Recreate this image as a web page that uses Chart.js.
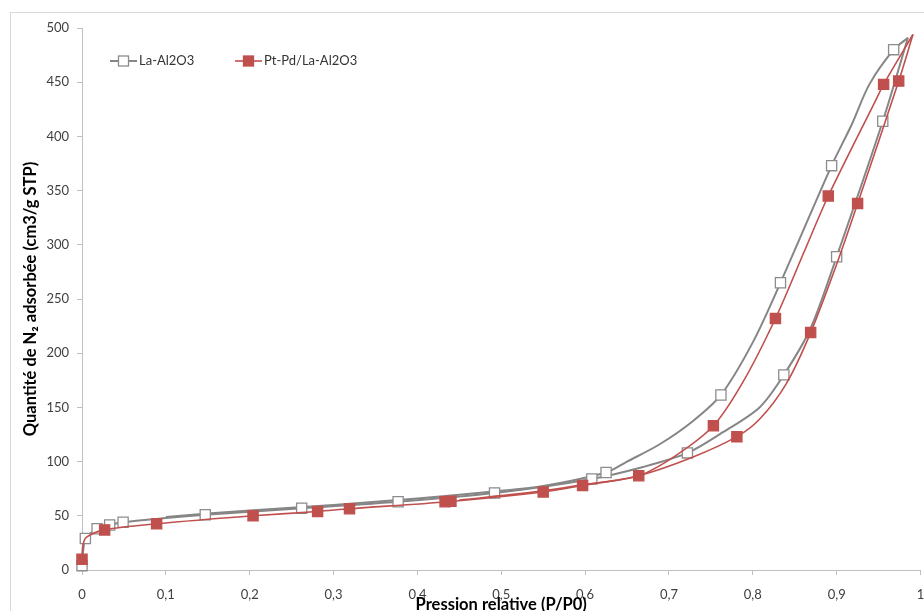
<!DOCTYPE html>
<html>
<head>
<meta charset="utf-8">
<script src="https://cdn.jsdelivr.net/npm/chart.js@4"></script>
<style>
  html, body { margin: 0; background: #fff; overflow: hidden; }
  #frame { position: absolute; left: 10px; top: 12px; width: 1000px; height: 700px; border: 1px solid #d9d9d9; }
  #myChart { position: absolute; left: 0; top: 0; }
</style>
</head>
<body>
<div id="frame"></div>
<canvas id="myChart" width="929" height="611"></canvas>
<script>
// La-Al2O3 : adsorption / desorption lines
const laAdsX = [0, 0.002, 0.004, 0.018, 0.033, 0.049, 0.1, 0.147, 0.262, 0.377, 0.492, 0.608, 0.669, 0.722, 0.762, 0.808, 0.837, 0.869, 0.9, 0.955, 0.985];
const laAdsY = [4.6, 22, 29, 38, 41.5, 44, 48, 51, 57, 63, 71, 84, 95, 108, 126, 150, 180, 223, 289, 414, 491];
const laDesX = [0.1, 0.2, 0.3, 0.4, 0.5, 0.55, 0.625, 0.65, 0.689, 0.728, 0.762, 0.8, 0.833, 0.894, 0.918, 0.939, 0.968, 0.985];
const laDesY = [49, 55, 60, 66, 73, 77.5, 90, 100, 116, 137, 161.5, 210, 265, 373, 411, 448, 480, 491];
// La-Al2O3 : markers
const laMarkX = [0, 0.004, 0.018, 0.033, 0.049, 0.147, 0.262, 0.377, 0.492, 0.608, 0.625, 0.722, 0.762, 0.837, 0.833, 0.9, 0.894, 0.955, 0.968];
const laMarkY = [4, 29, 38, 41.5, 44, 51, 57, 63, 71, 84, 90, 108, 161.5, 180, 265, 289, 373, 414, 480];

// Pt-Pd/La-Al2O3 : adsorption / desorption lines
const ptAdsX = [0, 0.001, 0.005, 0.027, 0.089, 0.204, 0.281, 0.319, 0.436, 0.55, 0.597, 0.664, 0.728, 0.781, 0.808, 0.84, 0.869, 0.9, 0.925, 0.974, 0.991];
const ptAdsY = [10, 22, 30, 37, 42.6, 50, 54, 56.5, 63, 72, 78, 87, 104, 123, 139, 172, 219, 282, 338, 451, 494];
const ptDesX = [0.45, 0.55, 0.6, 0.664, 0.709, 0.753, 0.788, 0.827, 0.862, 0.89, 0.947, 0.956, 0.991];
const ptDesY = [64.5, 73, 79, 87, 106, 133, 173, 232, 295, 345, 434, 448, 494];
// Pt-Pd/La-Al2O3 : markers
const ptMarkX = [0, 0.027, 0.089, 0.204, 0.281, 0.319, 0.433, 0.44, 0.55, 0.597, 0.664, 0.753, 0.781, 0.827, 0.869, 0.89, 0.925, 0.956, 0.974];
const ptMarkY = [10, 37, 42.6, 50, 54, 56.5, 63, 63.5, 72, 78, 87, 133, 123, 232, 219, 345, 338, 448, 451];

const xTicks = ['0', '0,1', '0,2', '0,3', '0,4', '0,5', '0,6', '0,7', '0,8', '0,9', '1'];
const seriesNames = ['La-Al2O3', 'Pt-Pd/La-Al2O3'];
const xTitle = 'Pression relative (P/P0)';
const yTitle = 'Quantité de N\u2082 adsorbée (cm3/g STP)';

const grey = '#868686';
const red = '#c0504d';
const font = 'Lato, "Open Sans", sans-serif';

const pts = (xs, ys) => xs.map((x, i) => ({ x: x, y: ys[i] }));

const lineSet = (xs, ys, color, w, order) => ({
  data: pts(xs, ys),
  showLine: true,
  borderColor: color,
  borderWidth: w,
  pointRadius: 0,
  tension: 0.3,
  clip: 6,
  order: order
});

const markSet = (xs, ys, stroke, fill, order) => ({
  data: pts(xs, ys),
  showLine: false,
  pointStyle: 'rect',
  pointRadius: 7.2,
  borderWidth: 1.3,
  borderColor: stroke,
  backgroundColor: fill,
  clip: false,
  order: order
});

// titles + legend drawn by hand
const deco = {
  id: 'deco',
  afterDraw(chart) {
    const ctx = chart.ctx;
    const area = chart.chartArea;
    ctx.save();
    ctx.fillStyle = '#000';
    ctx.font = 'bold 16.5px ' + font;
    ctx.textAlign = 'center';
    ctx.textBaseline = 'middle';
    ctx.fillText(xTitle, (area.left + area.right) / 2, 605);
    ctx.translate(31, (area.top + area.bottom) / 2);
    ctx.rotate(-Math.PI / 2);
    ctx.fillText(yTitle, 0, 0);
    ctx.restore();

    // legend
    const items = [
      { x: 110, color: grey, fill: '#fff', stroke: '#8c8c8c', w: 2 },
      { x: 235, color: red, fill: red, stroke: red, w: 1.6 }
    ];
    ctx.save();
    ctx.font = '13px ' + font;
    ctx.textBaseline = 'middle';
    items.forEach((it, i) => {
      const y = 61;
      ctx.strokeStyle = it.color;
      ctx.lineWidth = it.w;
      ctx.beginPath();
      ctx.moveTo(it.x, y);
      ctx.lineTo(it.x + 27, y);
      ctx.stroke();
      ctx.fillStyle = it.fill;
      ctx.fillRect(it.x + 8.5, y - 5, 10, 10);
      ctx.strokeStyle = it.stroke;
      ctx.lineWidth = 1.3;
      ctx.strokeRect(it.x + 8.5, y - 5, 10, 10);
      ctx.fillStyle = '#333';
      ctx.fillText(seriesNames[i], it.x + 29, y);
    });
    ctx.restore();
  }
};

const ctx = document.getElementById('myChart').getContext('2d');

new Chart(ctx, {
  type: 'scatter',
  data: {
    datasets: [
      markSet(ptMarkX, ptMarkY, red, red, 0),
      lineSet(ptAdsX, ptAdsY, red, 1.6, 1),
      lineSet(ptDesX, ptDesY, red, 1.6, 1),
      markSet(laMarkX, laMarkY, '#8c8c8c', '#fff', 2),
      lineSet(laAdsX, laAdsY, grey, 2, 3),
      lineSet(laDesX, laDesY, grey, 2, 3)
    ]
  },
  options: {
    responsive: false,
    animation: false,
    devicePixelRatio: 1,
    layout: { padding: { top: 28, right: 0, left: 0, bottom: 0 } },
    plugins: {
      legend: { display: false },
      tooltip: { enabled: false }
    },
    scales: {
      x: {
        type: 'linear',
        min: 0,
        max: 1,
        ticks: {
          stepSize: 0.1,
          color: '#404040',
          font: { family: font, size: 13 },
          padding: 12,
          maxRotation: 0,
          callback: (v, i) => xTicks[i]
        },
        grid: { drawOnChartArea: false, tickLength: 5, color: '#bfbfbf' },
        border: { color: '#bfbfbf' },
        afterFit: s => { s.height = 41; s.paddingLeft = 0; s.paddingRight = 0; }
      },
      y: {
        min: 0,
        max: 500,
        ticks: {
          stepSize: 50,
          color: '#404040',
          font: { family: font, size: 13 },
          padding: 8
        },
        grid: { drawOnChartArea: false, tickLength: 5, color: '#bfbfbf' },
        border: { color: '#bfbfbf' },
        afterFit: s => { s.width = 82; s.paddingTop = 0; s.paddingBottom = 0; }
      }
    }
  },
  plugins: [deco]
});
</script>
</body>
</html>
